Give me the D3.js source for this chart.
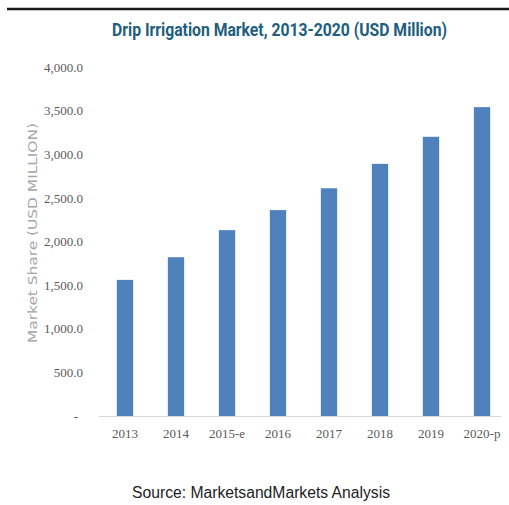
<!DOCTYPE html>
<html>
<head>
<meta charset="utf-8">
<script src="https://cdn.jsdelivr.net/npm/d3@7"></script>
<style>
  body { margin: 0; background: #fff; }
  svg { display: block; }
</style>
</head>
<body>
<svg id="chart" width="509" height="505"></svg>
<script>
// data
var years = ['2013', '2014', '2015-e', '2016', '2017', '2018', '2019', '2020-p'];
var marketValues = [1560, 1820, 2130, 2360, 2610, 2890, 3200, 3540];
var yTicks = [0, 500, 1000, 1500, 2000, 2500, 3000, 3500, 4000];

var svg = d3.select('#chart');

//* top rule
svg.append('line')
  .attr('x1', 7).attr('x2', 509)
  .attr('y1', 9).attr('y2', 9)
  .attr('stroke', '#1a1a1a')
  .attr('stroke-width', 2.5);

//* title
svg.append('text')
  .attr('x', 112)
  .attr('y', 36)
  .attr('textLength', 335)
  .attr('lengthAdjust', 'spacingAndGlyphs')
  .attr('font-family', 'Roboto, "Liberation Sans", sans-serif')
  .attr('font-weight', 'bold')
  .attr('font-size', 18)
  .style('fill', '#215d7c')
  .text('Drip Irrigation Market, 2013-2020 (USD Million)');

//* scales
var x = d3.scaleBand()
  .domain(years)
  .range([99.5, 507.5])
  .paddingInner(0.68)
  .paddingOuter(0.34);

var y = d3.scaleLinear()
  .domain([0, 4000])
  .range([416, 67]);

//* y axis (labels only)
var yAxis = d3.axisLeft(y)
  .tickValues(yTicks)
  .tickSize(0)
  .tickPadding(0)
  .tickFormat(function(d) { return d === 0 ? '-' : d3.format(',.1f')(d); });

var gy = svg.append('g')
  .attr('transform', 'translate(83,0)')
  .call(yAxis);
gy.select('.domain').remove();
gy.selectAll('text')
  .attr('font-family', '"Liberation Serif", "Times New Roman", serif')
  .attr('font-size', 13)
  .attr('fill', '#5a5a5a')
  .attr('dx', function(d) { return d === 0 ? -5 : 0; });

//* y axis title
svg.append('text')
  .attr('transform', 'translate(37,233) rotate(-90)')
  .attr('text-anchor', 'middle')
  .attr('textLength', 220)
  .attr('lengthAdjust', 'spacingAndGlyphs')
  .attr('font-family', '"DejaVu Sans", Verdana, sans-serif')
  .attr('font-size', 12.5)
  .style('fill', '#a6a6a6')
  .text('Market  Share (USD MILLION)');

//* bars
svg.append('g').selectAll('rect')
  .data(marketValues)
  .enter().append('rect')
  .attr('x', function(d, i) { return x(years[i]); })
  .attr('width', x.bandwidth())
  .attr('y', function(d) { return y(d); })
  .attr('height', function(d) { return y(0) - y(d); })
  .attr('fill', '#4f81bd');

//* x axis
var xAxis = d3.axisBottom(x).tickSize(0).tickPadding(0);
var gx = svg.append('g')
  .attr('transform', 'translate(0,' + y(0) + ')')
  .call(xAxis);
gx.select('.domain')
  .attr('d', 'M99,0.5H501')
  .attr('stroke', '#d9d9d9')
  .attr('stroke-width', 1.2);
gx.selectAll('text')
  .attr('y', 13)
  .attr('dy', '0.71em')
  .attr('font-family', '"Liberation Serif", "Times New Roman", serif')
  .attr('font-size', 13)
  .attr('fill', '#5a5a5a');

//* source
svg.append('text')
  .attr('x', 132)
  .attr('y', 498)
  .attr('textLength', 258)
  .attr('lengthAdjust', 'spacingAndGlyphs')
  .attr('font-family', '"Liberation Sans", Arial, sans-serif')
  .attr('font-size', 16)
  .style('fill', '#222')
  .text('Source: MarketsandMarkets Analysis');
</script>
</body>
</html>
